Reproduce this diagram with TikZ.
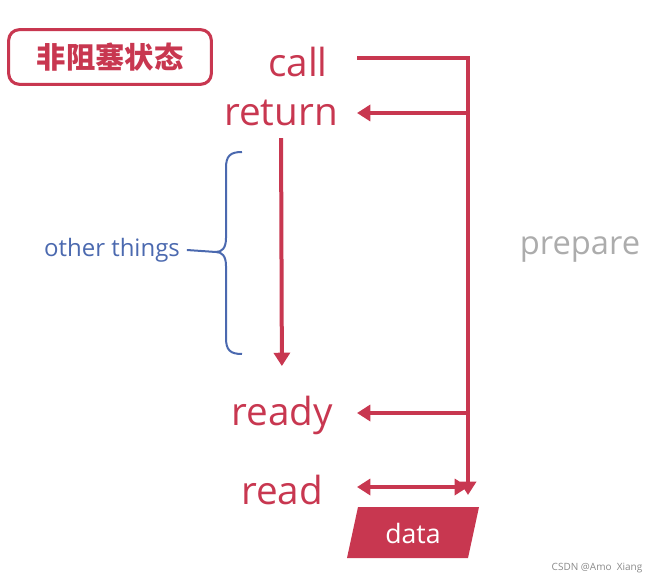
\documentclass[tikz,border=0pt]{standalone}
\usepackage{fontspec}
\setmainfont{Open Sans}
\newfontfamily\cjk{Noto Sans CJK SC}
\usepackage{tikz}
\usetikzlibrary{arrows.meta}
\definecolor{crimson}{RGB}{200,55,80}
\definecolor{braceblue}{RGB}{75,105,175}
\definecolor{softgray}{RGB}{172,172,172}

\begin{document}
\begin{tikzpicture}[x=0.75pt, y=-0.75pt]
  \useasboundingbox (0,0) rectangle (648,580);

  \tikzset{
    word/.style={text=crimson, font=\fontsize{29}{34}\selectfont, inner sep=0pt},
    arr/.style={crimson, line width=3pt, -{Triangle[length=10pt, width=12pt]}},
    darr/.style={crimson, line width=3pt, {Triangle[length=10pt, width=12pt]}-{Triangle[length=10pt, width=12pt]}}
  }

  % Title box
  \node[draw=crimson, line width=2.3pt, rounded corners=8pt, minimum width=152pt, minimum height=41pt,
        text=crimson, font=\cjk\bfseries\fontsize{22}{26}\selectfont] (title) at (110,57) {非阻塞状态};

  % Words on the left column
  \node[word] (call) at (298,62) {call};
  \node[word] (return) at (281,113) {return};
  \node[word] (ready) at (282,415) {ready};
  \node[word] (read) at (282,490) {read};

  % Rail on the right: x = 468
  \coordinate (callout) at (357,58);
  \coordinate (railtop) at (468,58);
  \coordinate (railbot) at (468,495);
  \coordinate (jret) at (468,113);
  \coordinate (jready) at (468,413);
  \coordinate (retin) at (357,113);
  \coordinate (readyin) at (357,413);
  \coordinate (readL) at (357,487);
  \coordinate (readR) at (468,487);

  \draw[arr] (callout) -- (railtop) -- (railbot);
  \draw[arr] (jret) -- (retin);
  \draw[arr] (jready) -- (readyin);
  \draw[darr] (readL) -- (readR);

  % Waiting line between return and ready
  \draw[arr, shorten <=9pt, shorten >=22pt] (return.south) -- (ready.north);

  % Brace and label
  \node[text=braceblue, font=\fontsize{18}{22}\selectfont, inner sep=0pt] (other) at (112,250) {other things};
  \coordinate (bracetip) at (216,252);
  \draw[braceblue, line width=1.5pt]
    (242,152) .. controls (230,152) and (226,156) .. (226,168) -- (226,238)
    .. controls (226,248) and (222,252) .. (bracetip)
    .. controls (222,252) and (226,256) .. (226,266) -- (226,338)
    .. controls (226,350) and (230,354) .. (242,354);
  \draw[braceblue, line width=1.5pt] ([xshift=5pt]other.east) -- (bracetip);

  % Prepare label
  \node[text=softgray, font=\fontsize{24.5}{29}\selectfont, inner sep=0pt] (prepare) at (580,250) {prepare};

  % Data block
  \fill[crimson] (358,507) -- (479,507) -- (468,558) -- (347,558) -- cycle;
  \node[text=white, font=\fontsize{20}{24}\selectfont, inner sep=0pt] (data) at (413,533) {data};

  % Watermark
  \node[text=softgray!80!black, font=\fontsize{7.5}{9}\selectfont, inner sep=0pt] (mark) at (597,568) {CSDN @Amo\ \ Xiang};

\end{tikzpicture}
\end{document}
